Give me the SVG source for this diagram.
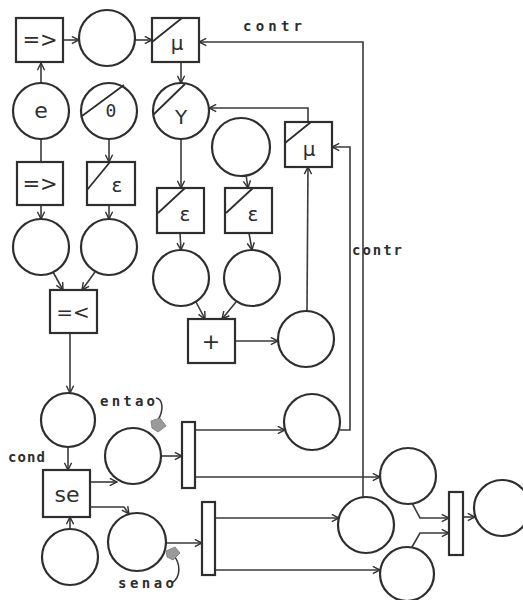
<svg xmlns="http://www.w3.org/2000/svg" width="523" height="600" viewBox="0 0 523 600">
<defs>
<marker id="arr" viewBox="0 0 10 10" refX="9" refY="5" markerWidth="9" markerHeight="9" markerUnits="userSpaceOnUse" orient="auto">
<path d="M1,1 L9,5 L1,9" fill="none" stroke="#333" stroke-width="1.6"/>
</marker>
<style>
.n{fill:#fff;stroke:#2e2e2e;stroke-width:2.2}
.s{fill:none;stroke:#2e2e2e;stroke-width:1.8}
.c{fill:none;stroke:#3a3a3a;stroke-width:1.6}
.a{fill:none;stroke:#3a3a3a;stroke-width:1.6;marker-end:url(#arr)}
.t{font-family:"DejaVu Sans","Liberation Sans",sans-serif;fill:#2e2e2e;text-anchor:middle;dominant-baseline:central}
.l{font-family:"DejaVu Sans Mono","Liberation Mono",monospace;fill:#2e2e2e;font-size:14px;font-weight:bold}
.smudge{fill:#9a9a9a;stroke:#777;stroke-width:0.8}
</style>
</defs>
<rect width="523" height="600" fill="#fff"/>

<g id="connectors">
<line class="a" x1="41" y1="83" x2="41" y2="63"/>
<line class="a" x1="63" y1="40" x2="79" y2="40"/>
<line class="a" x1="135" y1="40" x2="152" y2="40"/>
<line class="a" x1="181" y1="62" x2="181" y2="83"/>
<line class="c" x1="41" y1="139" x2="41" y2="162"/>
<line class="a" x1="109" y1="139" x2="109" y2="162"/>
<line class="a" x1="41" y1="205" x2="41" y2="219"/>
<line class="a" x1="109" y1="205" x2="109" y2="219"/>
<line class="a" x1="53" y1="272" x2="63" y2="290"/>
<line class="a" x1="95" y1="272" x2="82" y2="290"/>
<line class="a" x1="70" y1="333" x2="70" y2="393"/>
<line class="a" x1="68" y1="447" x2="68" y2="470"/>
<line class="a" x1="70" y1="529" x2="70" y2="517"/>
<polyline class="a" points="90,482 117,482"/>
<polyline class="a" points="90,507 124,507 129,514"/>
<line class="a" x1="160" y1="456" x2="182" y2="456"/>
<line class="a" x1="166" y1="543" x2="202" y2="543"/>
<line class="a" x1="195" y1="430" x2="285" y2="430"/>
<line class="a" x1="195" y1="477" x2="380" y2="477"/>
<line class="a" x1="215" y1="518" x2="339" y2="518"/>
<line class="a" x1="215" y1="570" x2="380" y2="570"/>
<polyline class="a" points="412,503 420,518 449,518"/>
<polyline class="a" points="412,547 420,533 449,533"/>
<line class="a" x1="463" y1="517" x2="475" y2="517"/>
<line class="a" x1="181" y1="139" x2="181" y2="188"/>
<line class="a" x1="246" y1="175" x2="248" y2="188"/>
<line class="a" x1="180" y1="233" x2="181" y2="250"/>
<line class="a" x1="249" y1="233" x2="252" y2="250"/>
<line class="a" x1="196" y1="302" x2="205" y2="319"/>
<line class="a" x1="236" y1="302" x2="222" y2="319"/>
<line class="a" x1="235" y1="341" x2="278" y2="341"/>
<line class="a" x1="307" y1="311" x2="308" y2="167"/>
<polyline class="a" points="308,122 308,108 209,108"/>
<polyline class="a" points="340,430 350,430 350,147 332,147"/>
<polyline class="a" points="363,497 363,42 199,42"/>
<path class="c" d="M156,398 C163,399 164,410 158,420"/>
<path class="smudge" d="M151,421 L160,418 L166,426 L158,432 L152,428 Z"/>
<path class="c" d="M172,583 C181,577 181,563 173,555"/>
<path class="smudge" d="M166,551 L175,547 L180,553 L173,560 L167,557 Z"/>
</g>

<g id="n_imp1"><rect class="n" x="16" y="18" width="47" height="44"/><text class="t" x="40" y="40" font-size="21">=&gt;</text></g>
<g id="n_p1"><circle class="n" cx="107" cy="38" r="28"/></g>
<g id="n_mu1"><rect class="n" x="152" y="18" width="47" height="44"/><line class="s" x1="152" y1="42" x2="182" y2="18"/><text class="t" x="177" y="43" font-size="20">μ</text></g>
<g id="n_e"><circle class="n" cx="41" cy="111" r="28"/><text class="t" x="41" y="110" font-size="22">e</text></g>
<g id="n_zero"><circle class="n" cx="109" cy="111" r="28"/><line class="s" x1="82" y1="116" x2="124" y2="85"/><text class="t" x="111" y="110" font-size="18" style="font-family:'DejaVu Sans Mono',monospace">0</text></g>
<g id="n_y"><circle class="n" cx="181" cy="111" r="28"/><line class="s" x1="153" y1="115" x2="185" y2="84"/><text class="t" x="181" y="117" font-size="20">Y</text></g>
<g id="n_top_r"><circle class="n" cx="241" cy="147" r="29"/></g>
<g id="n_mu2"><rect class="n" x="285" y="122" width="47" height="45"/><line class="s" x1="285" y1="143" x2="311" y2="122"/><text class="t" x="309" y="149" font-size="20">μ</text></g>
<g id="n_imp2"><rect class="n" x="17" y="162" width="46" height="43"/><text class="t" x="40" y="184" font-size="21">=&gt;</text></g>
<g id="n_eps1"><rect class="n" x="87" y="162" width="48" height="43"/><line class="s" x1="87" y1="190" x2="110" y2="162"/><text class="t" x="117" y="185" font-size="20">ε</text></g>
<g id="n_pl1"><circle class="n" cx="41" cy="247" r="28"/></g>
<g id="n_pl2"><circle class="n" cx="109" cy="247" r="28"/></g>
<g id="n_le"><rect class="n" x="50" y="290" width="47" height="43"/><text class="t" x="73" y="312" font-size="20">=&lt;</text></g>
<g id="n_eps2"><rect class="n" x="157" y="188" width="47" height="45"/><line class="s" x1="158" y1="213" x2="185" y2="188"/><text class="t" x="185" y="214" font-size="20">ε</text></g>
<g id="n_eps3"><rect class="n" x="225" y="188" width="47" height="45"/><line class="s" x1="226" y1="213" x2="253" y2="188"/><text class="t" x="253" y="214" font-size="20">ε</text></g>
<g id="n_pm1"><circle class="n" cx="181" cy="278" r="28"/></g>
<g id="n_pm2"><circle class="n" cx="252" cy="278" r="28"/></g>
<g id="n_plus"><rect class="n" x="188" y="319" width="47" height="44"/><text class="t" x="211" y="341" font-size="22">+</text></g>
<g id="n_sum"><circle class="n" cx="306" cy="339" r="28"/></g>
<g id="n_cond"><circle class="n" cx="68" cy="420" r="27"/></g>
<g id="n_se"><rect class="n" x="43" y="470" width="47" height="47"/><text class="t" x="67" y="494" font-size="22">se</text></g>
<g id="n_bot"><circle class="n" cx="70" cy="557" r="28"/></g>
<g id="n_entao"><circle class="n" cx="133" cy="456" r="28"/></g>
<g id="n_senao"><circle class="n" cx="137" cy="542" r="29"/></g>
<g id="n_t1"><rect class="n" x="182" y="422" width="13" height="66"/></g>
<g id="n_t2"><rect class="n" x="202" y="502" width="13" height="73"/></g>
<g id="n_pc"><circle class="n" cx="312" cy="422" r="28"/></g>
<g id="n_pr1"><circle class="n" cx="408" cy="476" r="28"/></g>
<g id="n_pr2"><circle class="n" cx="366" cy="525" r="28"/></g>
<g id="n_pr3"><circle class="n" cx="407" cy="574" r="27"/></g>
<g id="n_t3"><rect class="n" x="449" y="492" width="14" height="63"/></g>
<g id="n_out"><circle class="n" cx="502" cy="508" r="28"/></g>

<g id="labels">
<text class="l" x="243" y="31" textLength="59" lengthAdjust="spacing">contr</text>
<text class="l" x="352" y="255" textLength="50" lengthAdjust="spacing">contr</text>
<text class="l" x="8" y="462" textLength="37" lengthAdjust="spacing">cond</text>
<text class="l" x="100" y="406" textLength="55" lengthAdjust="spacing">entao</text>
<text class="l" x="118" y="588" textLength="56" lengthAdjust="spacing">senao</text>
</g>
</svg>
